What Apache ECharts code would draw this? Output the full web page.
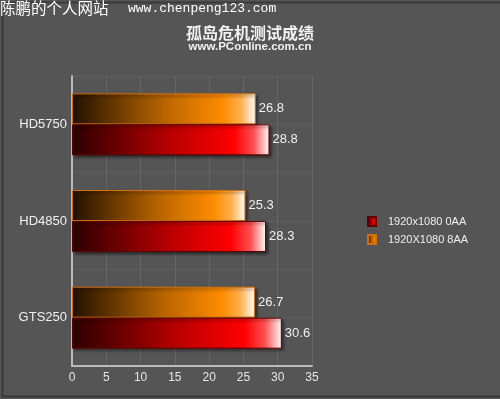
<!DOCTYPE html>
<html>
<head>
<meta charset="utf-8">
<script src="https://cdn.jsdelivr.net/npm/echarts@6/dist/echarts.min.js"></script>
<style>
html,body{margin:0;padding:0;background:#555555;}
#main{width:500px;height:399px;}
</style>
</head>
<body>
<div id="main"></div>
<script>
var categories = ['HD5750', 'HD4850', 'GTS250'];
var seriesNames = ['1920x1080 0AA', '1920X1080 8AA'];
var aa0 = [28.8, 28.3, 30.6];
var aa8 = [26.8, 25.3, 26.7];

var myChart = echarts.init(document.getElementById('main'));

function grad(c0, c1, c2, c3) {
    return new echarts.graphic.LinearGradient(0, 0, 1, 0, [
        {offset: 0, color: c0},
        {offset: 0.5, color: c1},
        {offset: 0.82, color: c2},
        {offset: 0.92, color: c3},
        {offset: 1, color: '#ffffff'}
    ]);
}

var labelStyle = {show: true, position: 'right', distance: 3, color: '#f0f0f0', fontSize: 13, fontFamily: 'Arial, Liberation Sans'};

var option = {
    backgroundColor: '#555555',
    animation: false,
    title: {
        text: '孤岛危机测试成绩',
        subtext: 'www.PConline.com.cn',
        left: 'center',
        top: 20,
        itemGap: 0,
        textStyle: {color: '#f2f2f2', fontSize: 16, fontWeight: 'bold', fontFamily: 'Noto Sans CJK SC'},
        subtextStyle: {color: '#f2f2f2', fontSize: 11.5, fontWeight: 'bold', fontFamily: 'Arial, Liberation Sans'}
    },
    legend: {
        orient: 'vertical',
        left: 362,
        top: 211,
        itemWidth: 8,
        itemHeight: 9,
        itemGap: 7,
        icon: 'rect',
        data: seriesNames,
        textStyle: {color: '#eeeeee', fontSize: 11, fontFamily: 'Arial, Liberation Sans', padding: [0, 0, 0, 7]}
    },
    grid: {left: 72, right: 188, top: 76, bottom: 33},
    xAxis: {
        type: 'value',
        min: 0,
        max: 35,
        interval: 5,
        axisLine: {show: true, lineStyle: {color: '#bbbbbb', width: 2}},
        axisTick: {show: false},
        axisLabel: {color: '#e6e6e6', fontSize: 12, fontFamily: 'Arial, Liberation Sans', margin: 6},
        splitLine: {show: true, lineStyle: {color: '#666666', width: 1}}
    },
    yAxis: [{
        type: 'category',
        data: categories,
        inverse: true,
        axisLine: {show: true, lineStyle: {color: '#bbbbbb', width: 2}},
        axisTick: {show: false},
        axisLabel: {color: '#f0f0f0', fontSize: 13, fontFamily: 'Arial, Liberation Sans', margin: 5},
        splitLine: {show: false}
    }, {
        type: 'value',
        min: 0,
        max: 6,
        interval: 1,
        position: 'left',
        axisLine: {show: false},
        axisTick: {show: false},
        axisLabel: {show: false},
        splitLine: {show: true, lineStyle: {color: '#5f5f5f', width: 1}}
    }],
    series: [
        {
            name: seriesNames[1],
            type: 'bar',
            data: aa8,
            barWidth: 31,
            barGap: '0%',
            itemStyle: {
                color: grad('#221100', '#b86400', '#ff8c00', '#ffb050'),
                borderColor: '#d07010',
                borderWidth: 1,
                shadowColor: 'rgba(0,0,0,0.55)',
                shadowBlur: 3,
                shadowOffsetX: 2,
                shadowOffsetY: 2
            },
            label: labelStyle
        },
        {
            name: seriesNames[0],
            type: 'bar',
            data: aa0,
            barWidth: 31,
            barGap: '0%',
            itemStyle: {
                color: grad('#2a0000', '#b80000', '#ff0000', '#ff5050'),
                borderColor: '#600000',
                borderWidth: 1,
                shadowColor: 'rgba(0,0,0,0.55)',
                shadowBlur: 3,
                shadowOffsetX: 2,
                shadowOffsetY: 2
            },
            label: labelStyle
        }
    ],
    graphic: [
        {type: 'rect', left: 0, top: 0, shape: {width: 499, height: 394}, style: {fill: 'none', stroke: '#3a3a3a', lineWidth: 2}, silent: true},
        {type: 'text', left: 0, top: 0, style: {text: '陈鹏的个人网站', fill: '#ffffff', fontSize: 15.5, fontFamily: 'Noto Sans CJK SC'}},
        {type: 'text', left: 128, top: 2, style: {text: 'www.chenpeng123.com', fill: '#ffffff', fontSize: 13, fontFamily: 'Liberation Mono'}}
    ]
};

myChart.setOption(option);
</script>
</body>
</html>
